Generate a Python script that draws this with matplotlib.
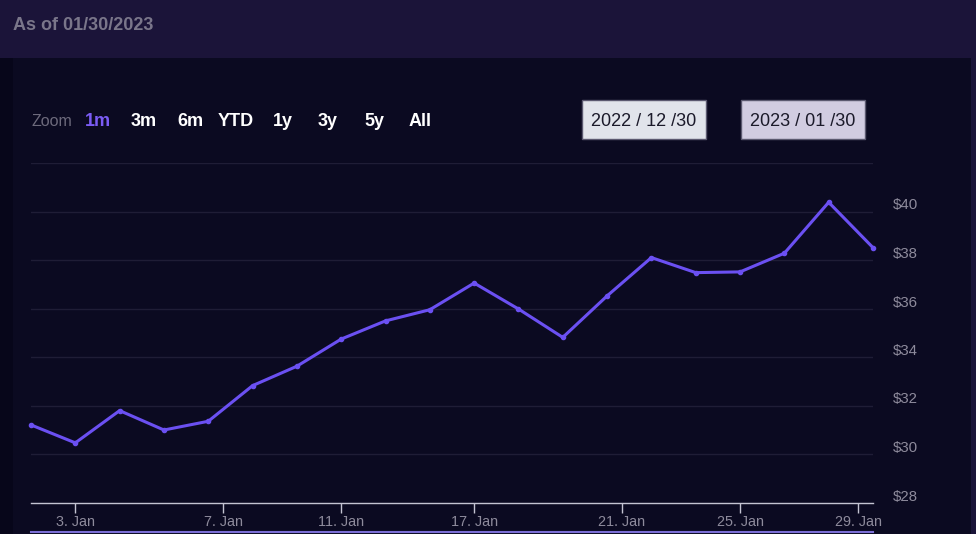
import matplotlib.pyplot as plt
from matplotlib.patches import Rectangle
from matplotlib.lines import Line2D
from matplotlib.transforms import ScaledTranslation

# closing prices, one per trading day (30 Dec 2022 .. 30 Jan 2023)
trading_days = ['2022-12-30', '2023-01-03', '2023-01-04', '2023-01-05', '2023-01-06',
                '2023-01-09', '2023-01-10', '2023-01-11', '2023-01-12', '2023-01-13',
                '2023-01-17', '2023-01-18', '2023-01-19', '2023-01-20', '2023-01-23',
                '2023-01-24', '2023-01-25', '2023-01-26', '2023-01-27', '2023-01-30']
prices = [31.22, 30.48, 31.81, 31.01, 31.37, 32.84, 33.64, 34.76, 35.51, 35.97,
          37.07, 36.00, 34.83, 36.54, 38.12, 37.50, 37.53, 38.30, 40.40, 38.53]

# ordinal axis: calendar dates placed between trading days
x_tick_pos = [1, 4 + 1 / 3, 7, 10, 13 + 1 / 3, 16, 18 + 2 / 3]
x_tick_labels = ['3. Jan', '7. Jan', '11. Jan', '17. Jan', '21. Jan', '25. Jan', '29. Jan']
y_ticks = [28, 30, 32, 34, 36, 38, 40, 42]
y_tick_labels = ['$28', '$30', '$32', '$34', '$36', '$38', '$40', '']

zoom_labels = ['1m', '3m', '6m', 'YTD', '1y', '3y', '5y', 'All']
range_from = '2022 / 12 /30'
range_to = '2023 / 01 /30'
as_of = 'As of 01/30/2023'

W, H = 976, 534
plt.rcParams['font.family'] = ['Liberation Sans', 'DejaVu Sans']
fig = plt.figure(figsize=(W / 100, H / 100), dpi=100)
fig.patch.set_facecolor('#0b0a21')


def px(x, y):
    # pixel coords (from top left) to figure fraction
    return x / W, 1 - y / H


def rect(x0, y0, x1, y1, color, z=0, **kw):
    fig.patches.append(Rectangle(px(x0, y1), (x1 - x0) / W, (y1 - y0) / H,
                                 transform=fig.transFigure, facecolor=color,
                                 zorder=z, **kw))


# backgrounds
rect(0, 0, W, 58, '#1b1439')
rect(0, 58, 13, H, '#07061a')
rect(971, 58, W, H, '#1a1438')
rect(13, 58, 971, H, '#0b0a21')

fig.text(*px(13, 25), as_of, color='#7a768a', fontsize=13, fontweight='bold', va='center')

# zoom buttons
fig.text(*px(31, 122), 'Zoom', color='#6d6a7c', fontsize=11.5, va='center')
zoom_x = [85, 131, 177, 218, 273, 318, 364, 409]
for lbl, zx in zip(zoom_labels, zoom_x):
    col = '#7b5cf5' if lbl == '1m' else '#ffffff'
    fig.text(*px(zx, 122), lbl, color=col, fontsize=13, fontweight='bold', va='center')

# date range boxes
for (x0, x1), txt, fc in [((582, 706), range_from, '#e1e4eb'), ((741, 865), range_to, '#d1cce1')]:
    rect(x0, 100, x1, 139, fc, z=1, edgecolor='#5b5970', linewidth=1)
    fig.text(*px((x0 + x1) / 2, 121), txt, color='#1b1a2a', fontsize=13,
             ha='center', va='center', zorder=3)

# main plot
ax = fig.add_axes([31 / W, 1 - 503 / H, (873 - 31) / W, (503 - 163.5) / H])
ax.set_zorder(2)
ax.set_facecolor('none')
x = list(range(len(prices)))
ax.plot(x, prices, color='#6b50f2', linewidth=2.2, marker='o', markersize=3,
        solid_joinstyle='round', clip_on=False, zorder=3)
ax.set_xlim(0, len(prices) - 1)
ax.set_ylim(28, 42)

ax.set_yticks(y_ticks)
ax.set_yticklabels(y_tick_labels)
ax.yaxis.tick_right()
ax.tick_params(axis='y', length=0, pad=14, labelsize=10.8, labelcolor='#8e8b9c')
for lab in ax.get_yticklabels():
    lab.set_transform(lab.get_transform() + ScaledTranslation(0, 0.08, fig.dpi_scale_trans))
ax.grid(axis='y', color='#1f1d36', linewidth=1)

ax.set_xticks(x_tick_pos)
ax.set_xticklabels(x_tick_labels)
ax.tick_params(axis='x', length=7.5, width=1, color='#c4c4d2', pad=1,
               labelsize=10.4, labelcolor='#8e8b9c')

for s in ['top', 'right', 'left']:
    ax.spines[s].set_visible(False)
ax.spines['bottom'].set_color('#c4c4d2')
ax.spines['bottom'].set_linewidth(1)
ax.spines['bottom'].set_zorder(4)

# navigator outline at the bottom edge
fig.add_artist(Line2D([31 / W, 873 / W], [1 - 531.5 / H] * 2, transform=fig.transFigure,
                      color='#7c6fd6', linewidth=1.5, zorder=3))

fig.savefig('out.png', dpi=100, facecolor=fig.get_facecolor())
